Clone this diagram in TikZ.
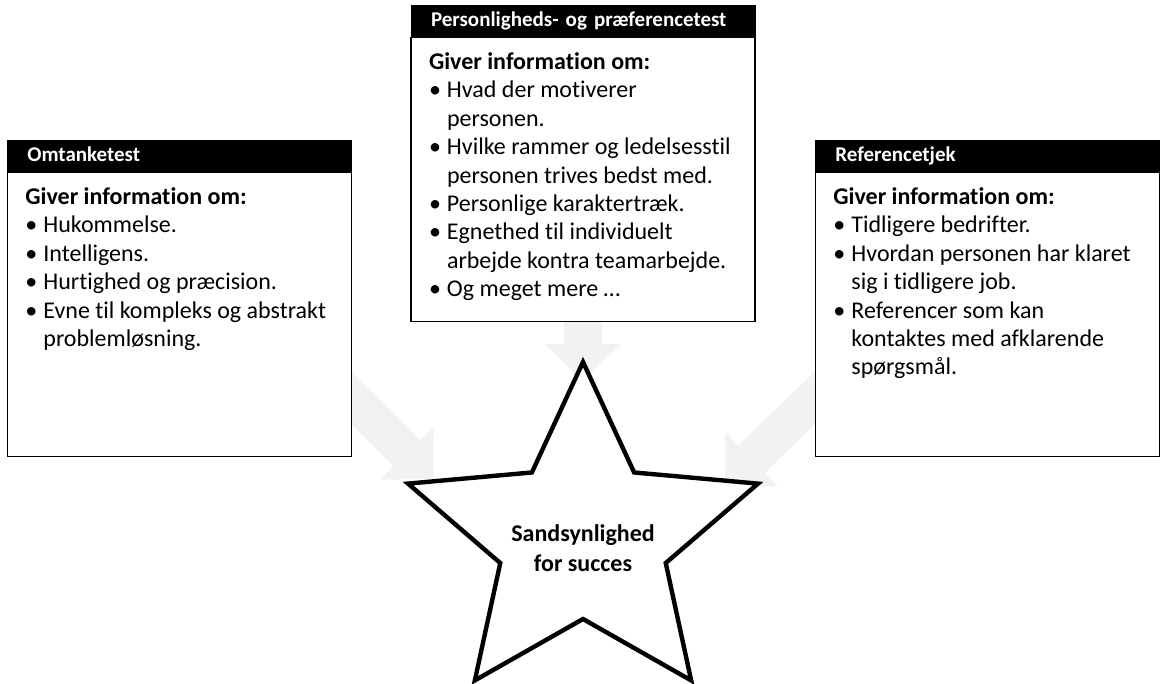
\documentclass[tikz,border=0pt]{standalone}
\usepackage{fontspec}
\setmainfont[Ligatures=NoCommon]{Carlito}
\usetikzlibrary{positioning,arrows.meta,shapes.geometric,backgrounds}
\definecolor{arrowgray}{RGB}{242,242,242}
\newcommand{\bul}[1]{\par\hangindent=9pt\hangafter=1\noindent\makebox[9pt][l]{•}#1}
\newcommand{\cardtext}[1]{\parbox[c][127pt][t]{154pt}{\raggedright #1\par}}

\begin{document}
\begin{tikzpicture}[x=0.5pt, y=-0.5pt,
      head/.style={rectangle, fill=black, draw=black, text=white,
                   font=\fontsize{10.5}{12}\selectfont\bfseries,
                   text width=152pt, inner xsep=10pt, inner ysep=0pt,
                   text height=8pt, text depth=2.5pt,
                   minimum height=15.5pt, align=left},
      card/.style={rectangle, draw=black, line width=0.8pt, fill=white,
                   inner xsep=9pt, inner ysep=7.5pt,
                   font=\fontsize{12}{14.2}\selectfont},
      fat/.style={draw=arrowgray, line width=19pt,
                  -{Triangle[length=18.5pt, width=37pt]}},
      starline/.style={draw=black, line width=2.2pt, fill=white, line join=miter}]
      \useasboundingbox (0,0) rectangle (1160,684);
      % three tests
      \node[head, anchor=north west] (omthead) at (7,140) {Omtanketest};
      \node[card, below=0pt of omthead] (omt) {\cardtext{\textbf{Giver information om:}
        \bul{Hukommelse.}
        \bul{Intelligens.}
        \bul{Hurtighed og præcision.}
        \bul{Evne til kompleks og abstrakt\newline problemløsning.}}};
      \node[head, anchor=north] (pershead) at (583,5) {Personligheds- og præferencetest};
      \node[card, below=0pt of pershead] (pers) {\cardtext{\textbf{Giver information om:}
        \bul{Hvad der motiverer\newline personen.}
        \bul{Hvilke rammer og ledelsesstil\newline personen trives bedst med.}
        \bul{Personlige karaktertræk.}
        \bul{Egnethed til individuelt\newline arbejde kontra teamarbejde.}
        \bul{Og meget mere …}}};
      \node[head, anchor=north west] (refhead) at (815,140) {Referencetjek};
      \node[card, below=0pt of refhead] (ref) {\cardtext{\textbf{Giver information om:}
        \bul{Tidligere bedrifter.}
        \bul{Hvordan personen har klaret\newline sig i tidligere job.}
        \bul{Referencer som kan\newline kontaktes med afklarende\newline spørgsmål.}}};
      % star
      \draw[starline, shift={(583,538)}] (-90:184 and 176) -- (-54:87 and 81)
        -- (-18:184 and 176) -- (18:87 and 81) -- (54:184 and 176) -- (90:87 and 81)
        -- (126:184 and 176) -- (162:87 and 81) -- (198:184 and 176) -- (234:87 and 81) -- cycle;
      \node[font=\fontsize{12}{15}\selectfont\bfseries, align=center] (goal) at (583,548)
        {Sandsynlighed\\for succes};
      \coordinate (tipL) at (433,479);
      \coordinate (tipC) at (583,381);
      \coordinate (tipR) at (725,485);
      \begin{scope}[on background layer]
        \draw[fat] ([shift={(-25pt,54.5pt)}]omt.south east) -- (tipL);
        \draw[fat] ([yshift=5pt]pers.south) -- (tipC);
        \draw[fat] ([shift={(23pt,52pt)}]ref.south west) -- (tipR);
      \end{scope}
    \end{tikzpicture}
\end{document}
